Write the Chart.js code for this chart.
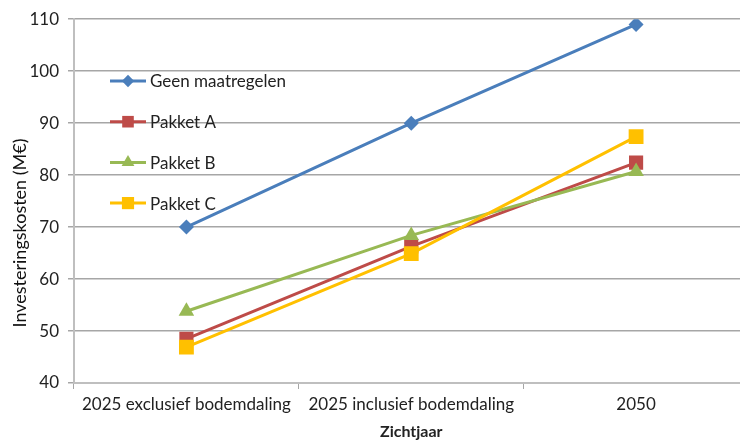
<!DOCTYPE html>
<html>
<head>
<meta charset="utf-8">
<script src="https://cdn.jsdelivr.net/npm/chart.js@4/dist/chart.umd.min.js"></script>
<style>
  html, body { margin: 0; padding: 0; background: #fff; overflow: hidden; }
  canvas { display: block; }
</style>
</head>
<body>
<canvas id="c" width="759" height="441"></canvas>
<script>
const categories = ['2025 exclusief bodemdaling', '2025 inclusief bodemdaling', '2050'];
const seriesNames = ['Geen maatregelen', 'Pakket A', 'Pakket B', 'Pakket C'];
const geenMaatregelen = [70, 90, 109];
const pakketA = [48.5, 66.3, 82.4];
const pakketB = [53.8, 68.4, 80.7];
const pakketC = [46.9, 64.9, 87.4];
const yTicks = [40, 50, 60, 70, 80, 90, 100, 110];
const yTitle = 'Investeringskosten (M€)';

const FONT = 'Lato, "Open Sans", sans-serif';
const colors = ['#4a7ebb', '#be4b48', '#98b954', '#ffc000'];
const markers = ['rectRot', 'rect', 'triangle', 'rect'];
const radii = [7.5, 10, 9, 10.5];

// later series on top, like the original
const datasets = [geenMaatregelen, pakketA, pakketB, pakketC].map((d, i) => ({
  label: seriesNames[i],
  data: d,
  order: 3 - i,
  borderColor: colors[i],
  backgroundColor: colors[i],
  borderWidth: 3,
  pointStyle: markers[i],
  pointRadius: radii[i],
  pointHoverRadius: radii[i],
  pointBorderWidth: 0,
  tension: 0
}));

// legend drawn inside the plot area, Excel style (line with marker in the middle)
// plus the y title, which sits a bit below the middle of the axis in the original
const insideLegend = {
  id: 'insideLegend',
  afterDatasetsDraw(chart) {
    const ctx = chart.ctx;
    const x0 = 110, x1 = 146, y0 = 81, step = 40.7;
    chart.data.datasets.forEach((ds, i) => {
      const y = y0 + i * step;
      ctx.save();
      ctx.strokeStyle = ds.borderColor;
      ctx.lineWidth = 3;
      ctx.beginPath();
      ctx.moveTo(x0, y);
      ctx.lineTo(x1, y);
      ctx.stroke();
      ctx.fillStyle = ds.backgroundColor;
      Chart.helpers.drawPoint(ctx, {
        pointStyle: ds.pointStyle,
        radius: ds.pointRadius * 0.82,
        borderWidth: 0
      }, (x0 + x1) / 2, y);
      ctx.fillStyle = '#222';
      ctx.font = '17px ' + FONT;
      ctx.textBaseline = 'middle';
      ctx.fillText(ds.label, 150, y + 1);
      ctx.restore();
    });

    ctx.save();
    ctx.translate(20, 233);
    ctx.rotate(-Math.PI / 2);
    ctx.fillStyle = '#111';
    ctx.font = '18px ' + FONT;
    ctx.textAlign = 'center';
    ctx.textBaseline = 'middle';
    ctx.fillText(yTitle, 0, 0);
    ctx.restore();
  }
};

new Chart(document.getElementById('c'), {
  type: 'line',
  data: { labels: categories, datasets: datasets },
  options: {
    responsive: false,
    animation: false,
    layout: { padding: { top: 15, right: 1, left: 0, bottom: 0 } },
    plugins: {
      legend: { display: false },
      tooltip: { enabled: false }
    },
    scales: {
      x: {
        offset: true,
        afterFit(scale) { scale.height = 58; },
        grid: {
          offset: true,
          drawOnChartArea: false,
          color: '#a6a6a6',
          tickLength: 6,
          tickColor: '#a6a6a6'
        },
        border: { color: '#bfbfbf', width: 2 },
        ticks: {
          color: '#222',
          font: { family: FONT, size: 17 },
          padding: 5,
          maxRotation: 0
        },
        title: {
          display: true,
          text: 'Zichtjaar',
          color: '#222',
          font: { family: FONT, size: 16, weight: 'bold' },
          padding: { top: 0, bottom: 0 }
        }
      },
      y: {
        min: 40,
        max: 110,
        afterFit(scale) { scale.width = 74; },
        afterBuildTicks(scale) { scale.ticks = yTicks.map(v => ({ value: v })); },
        grid: {
          color: '#a6a6a6',
          lineWidth: 1.5,
          tickLength: 6,
          tickColor: '#a6a6a6'
        },
        border: { color: '#bfbfbf', width: 2 },
        ticks: {
          color: '#222',
          font: { family: FONT, size: 17 },
          padding: 9
        }
      }
    }
  },
  plugins: [insideLegend]
});
</script>
</body>
</html>
